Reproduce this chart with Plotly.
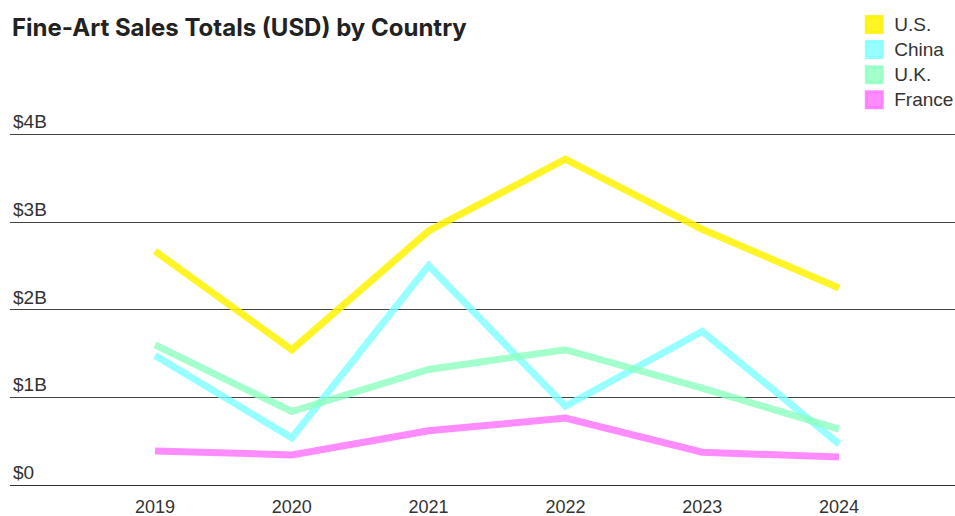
import plotly.graph_objects as go

years = ["2019", "2020", "2021", "2022", "2023", "2024"]
us = [2.67, 1.545, 2.90, 3.72, 2.92, 2.25]
china = [1.48, 0.54, 2.505, 0.90, 1.755, 0.47]
uk = [1.60, 0.84, 1.32, 1.545, 1.107, 0.64]
france = [0.39, 0.345, 0.62, 0.765, 0.376, 0.32]

series = [
    ("U.S.", us, "rgba(255,242,0,0.85)"),
    ("China", china, "rgba(125,255,255,0.8)"),
    ("U.K.", uk, "rgba(140,255,190,0.8)"),
    ("France", france, "rgba(255,120,255,0.85)"),
]
y_ticks = [0, 1, 2, 3, 4]
y_tick_text = ["$0", "$1B", "$2B", "$3B", "$4B"]

FONT = "Liberation Sans, Arial, sans-serif"
fig = go.Figure()
xi = list(range(len(years)))
for name, vals, col in series:
    fig.add_trace(go.Scatter(x=xi, y=vals, mode="lines", name=name,
                             line=dict(color=col, width=7), showlegend=False,
                             hoverinfo="skip"))
for name, vals, col in series:
    fig.add_trace(go.Scatter(x=[None], y=[None], mode="markers",
                             name=f'<span style="font-size:19px">{name}</span>',
                             marker=dict(symbol="square", size=16, color=col,
                                         line=dict(color=col, width=3)),
                             showlegend=True))

fig.update_layout(
    width=955, height=516,
    margin=dict(l=10, r=0, t=132, b=30, autoexpand=False),
    paper_bgcolor="white", plot_bgcolor="white",
    font=dict(family=FONT, color="#333", size=18),
    title=dict(text="<b>Fine-Art Sales Totals (USD) by Country</b>",
               x=12 / 955, xref="container", xanchor="left",
               y=1 - 28 / 516, yref="container", yanchor="middle",
               font=dict(family="Inter, Liberation Sans, sans-serif", size=24, color="#222")),
    legend=dict(x=0.8934, xanchor="left", y=1.3532, yanchor="top",
                font=dict(size=17, color="#333"), itemsizing="trace",
                tracegroupgap=0, bgcolor="rgba(0,0,0,0)"),
    showlegend=True,
)
fig.update_xaxes(range=[-1.06, 5.848], tickvals=xi, ticktext=years,
                 showgrid=False, zeroline=False, showline=False, automargin=False,
                 ticklabelstandoff=8,
                 tickfont=dict(size=18, color="#333"), ticks="")
fig.update_yaxes(range=[-0.01, 4.03], tickvals=y_ticks, ticktext=y_tick_text,
                 showgrid=True, gridcolor="#444", gridwidth=1, automargin=False,
                 zeroline=True, zerolinecolor="#333", zerolinewidth=1,
                 ticklabelposition="inside", ticklabelshift=-13,
                 ticklabeloverflow="allow",
                 tickfont=dict(size=19, color="#333"), ticks="")

fig.write_html("out.html", config={"displayModeBar": False},
               post_script="document.body.style.margin='0';document.body.style.overflow='hidden';")
